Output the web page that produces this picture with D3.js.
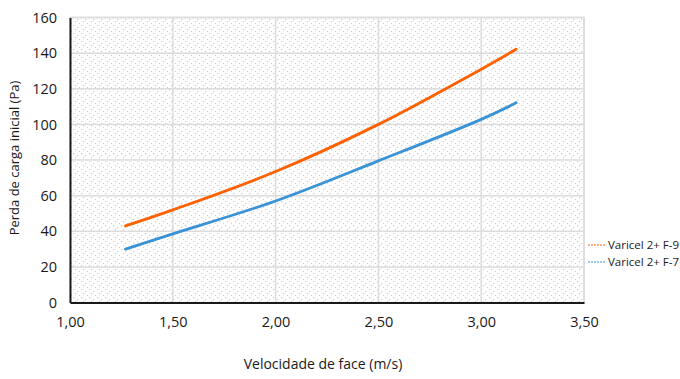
<!DOCTYPE html>
<html><head><meta charset="utf-8">
<script src="https://cdn.jsdelivr.net/npm/d3@7"></script>
<style>body{margin:0;background:#fff;} text{font-family:"Open Sans","Noto Sans",sans-serif;fill:#1a1a1a;}</style>
</head><body>
<svg id="c" width="680" height="379"></svg>
<script>
const velocities = [1.27, 1.50, 2.00, 2.50, 3.00, 3.17];
const seriesF9 = [43, 52, 73.5, 100, 131, 142.2];
const seriesF7 = [30, 38.5, 57, 79.5, 102.8, 112.1];
const seriesNames = ["Varicel 2+ F-9", "Varicel 2+ F-7"];
const seriesColors = ["#ff6000", "#3a93d6"];
const xTicks = [1.0, 1.5, 2.0, 2.5, 3.0, 3.5];
const yTicks = [0, 20, 40, 60, 80, 100, 120, 140, 160];
const xTitle = "Velocidade de face (m/s)";
const yTitle = "Perda de carga inicial (Pa)";

const svg = d3.select("#c");
const L = 70, R = 584, T = 17.5, B = 302.5;
const x = d3.scaleLinear().domain([1, 3.5]).range([L, R]);
const y = d3.scaleLinear().domain([0, 160]).range([B, T]);

const defs = svg.append("defs");
const pat = defs.append("pattern").attr("id","dots").attr("patternUnits","userSpaceOnUse")
  .attr("width",8).attr("height",8);
pat.append("rect").attr("width",8).attr("height",8).attr("fill","#fff");
[[1,1],[5,3],[3,5],[7,7]].forEach(([a,b])=>pat.append("rect").attr("x",a).attr("y",b).attr("width",1.2).attr("height",1.2).attr("fill","#cccccc"));

svg.append("rect").attr("x",L).attr("y",T).attr("width",R-L).attr("height",B-T).attr("fill","url(#dots)")
  .attr("stroke","#dcdcdc").attr("stroke-width",1.5);

// gridlines
svg.append("g").selectAll("line").data(yTicks.slice(1)).join("line")
  .attr("x1",L).attr("x2",R).attr("y1",d=>y(d)).attr("y2",d=>y(d))
  .attr("stroke","#dcdcdc").attr("stroke-width",1.5);
svg.append("g").selectAll("line").data(xTicks.slice(1)).join("line")
  .attr("y1",T).attr("y2",B).attr("x1",d=>x(d)).attr("x2",d=>x(d))
  .attr("stroke","#dcdcdc").attr("stroke-width",1.5);

// axes
const fmt = d => d3.format(".2f")(d).replace(".", ",");
const xAxis = svg.append("g").attr("transform",`translate(0,${B})`)
  .call(d3.axisBottom(x).tickValues(xTicks).tickFormat(fmt).tickSize(0).tickPadding(14));
xAxis.select(".domain").attr("stroke","#1a1a1a").attr("stroke-width",2);
xAxis.selectAll("text").attr("font-size",14.5).style("fill","#1a1a1a");
const yAxis = svg.append("g").attr("transform",`translate(${L},0)`)
  .call(d3.axisLeft(y).tickValues(yTicks).tickFormat(d3.format("d")).tickSize(0).tickPadding(13));
yAxis.select(".domain").attr("stroke","#1a1a1a").attr("stroke-width",2);
yAxis.selectAll("text").attr("font-size",14.5).style("fill","#1a1a1a");

// lines
const line = d3.line().x((d,i)=>x(velocities[i])).y(d=>y(d)).curve(d3.curveCatmullRom.alpha(0.5));
[seriesF9, seriesF7].forEach((s,k)=>{
  svg.append("path").attr("d",line(s)).attr("fill","none").attr("stroke",seriesColors[k])
    .attr("stroke-width",2.8).attr("stroke-linecap","round");
});

// titles
svg.append("text").attr("x",323).attr("y",369).attr("text-anchor","middle").attr("font-size",14).text(xTitle);
svg.append("text").attr("transform","translate(19,158) rotate(-90)").attr("text-anchor","middle").attr("font-size",13).text(yTitle);

// legend
seriesNames.forEach((n,k)=>{
  const yy = 245 + k*17;
  svg.append("line").attr("x1",588).attr("x2",605).attr("y1",yy).attr("y2",yy)
    .attr("stroke",seriesColors[k]).attr("stroke-width",1).attr("stroke-dasharray","2,1");
  svg.append("text").attr("x",608).attr("y",yy+4).attr("font-size",11.5).text(n);
});
</script>
</body></html>
